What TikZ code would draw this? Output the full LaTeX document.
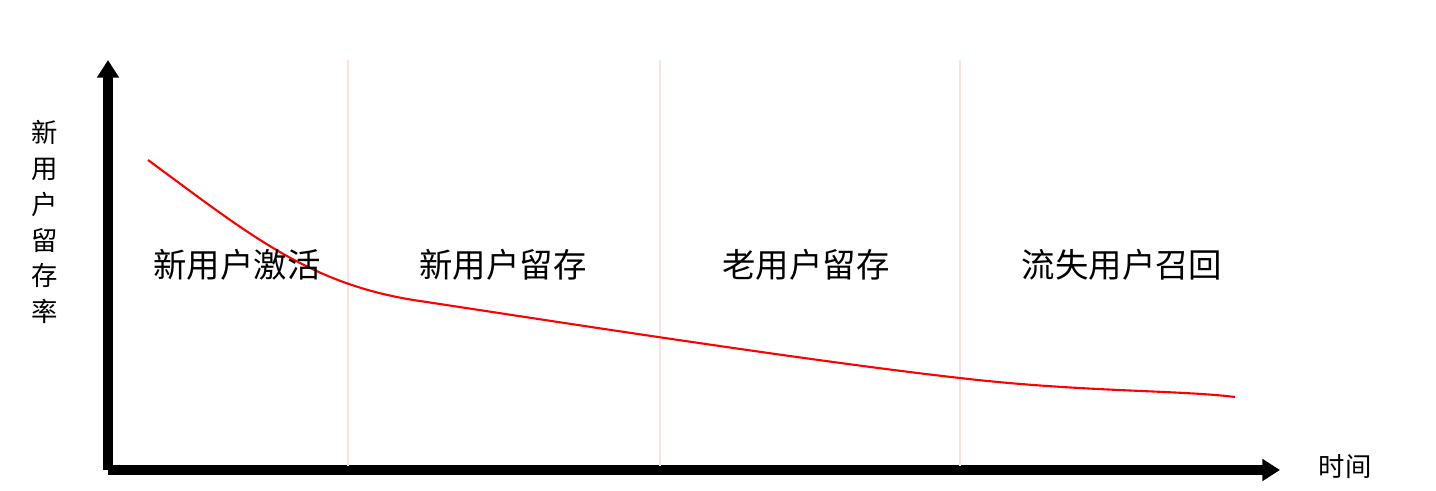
\documentclass[tikz,border=0pt]{standalone}
\usepackage{fontspec}
\usetikzlibrary{arrows.meta}
\setmainfont{Noto Sans CJK SC}
\begin{document}
\begin{tikzpicture}[x=0.01cm,y=-0.01cm,
  axis/.style={line width=3pt,-{Triangle[length=5pt,width=6pt]}},
  stage/.style={draw=red!12,line width=0.4pt},
  stagelabel/.style={font=\fontsize{9.5}{11}\selectfont},
  curve/.style={red,line width=0.6pt}
  ]
\useasboundingbox (0,0) rectangle (1436,490);
% axes
\coordinate (o) at (108,470);
\coordinate (ytop) at (108,60);
\coordinate (xend) at (1280,470);
\draw[axis] (o) -- (ytop);
\draw[axis] (o) -- (xend);
% stage dividers
\foreach \x in {348,660,960}
  \draw[stage] (\x,60) -- (\x,466);
% retention curve
\draw[curve] (148,160) .. controls (250,235) and (310,285) .. (420,301)
  .. controls (520,316) and (800,360) .. (960,378)
  .. controls (1080,392) and (1180,390) .. (1235,397);
% labels
\node[stagelabel] (s1) at (237,265) {新用户激活};
\node[stagelabel] (s2) at (503,265) {新用户留存};
\node[stagelabel] (s3) at (806,265) {老用户留存};
\node[stagelabel] (s4) at (1122,265) {流失用户召回};
\node[stagelabel,font=\fontsize{7.5}{10.2}\selectfont,align=center] (ylab) at (45,222)
  {新\\用\\户\\留\\存\\率};
\node[stagelabel,font=\fontsize{7.5}{9}\selectfont] (xlab) at (1345,467) {时间};
\end{tikzpicture}
\end{document}
